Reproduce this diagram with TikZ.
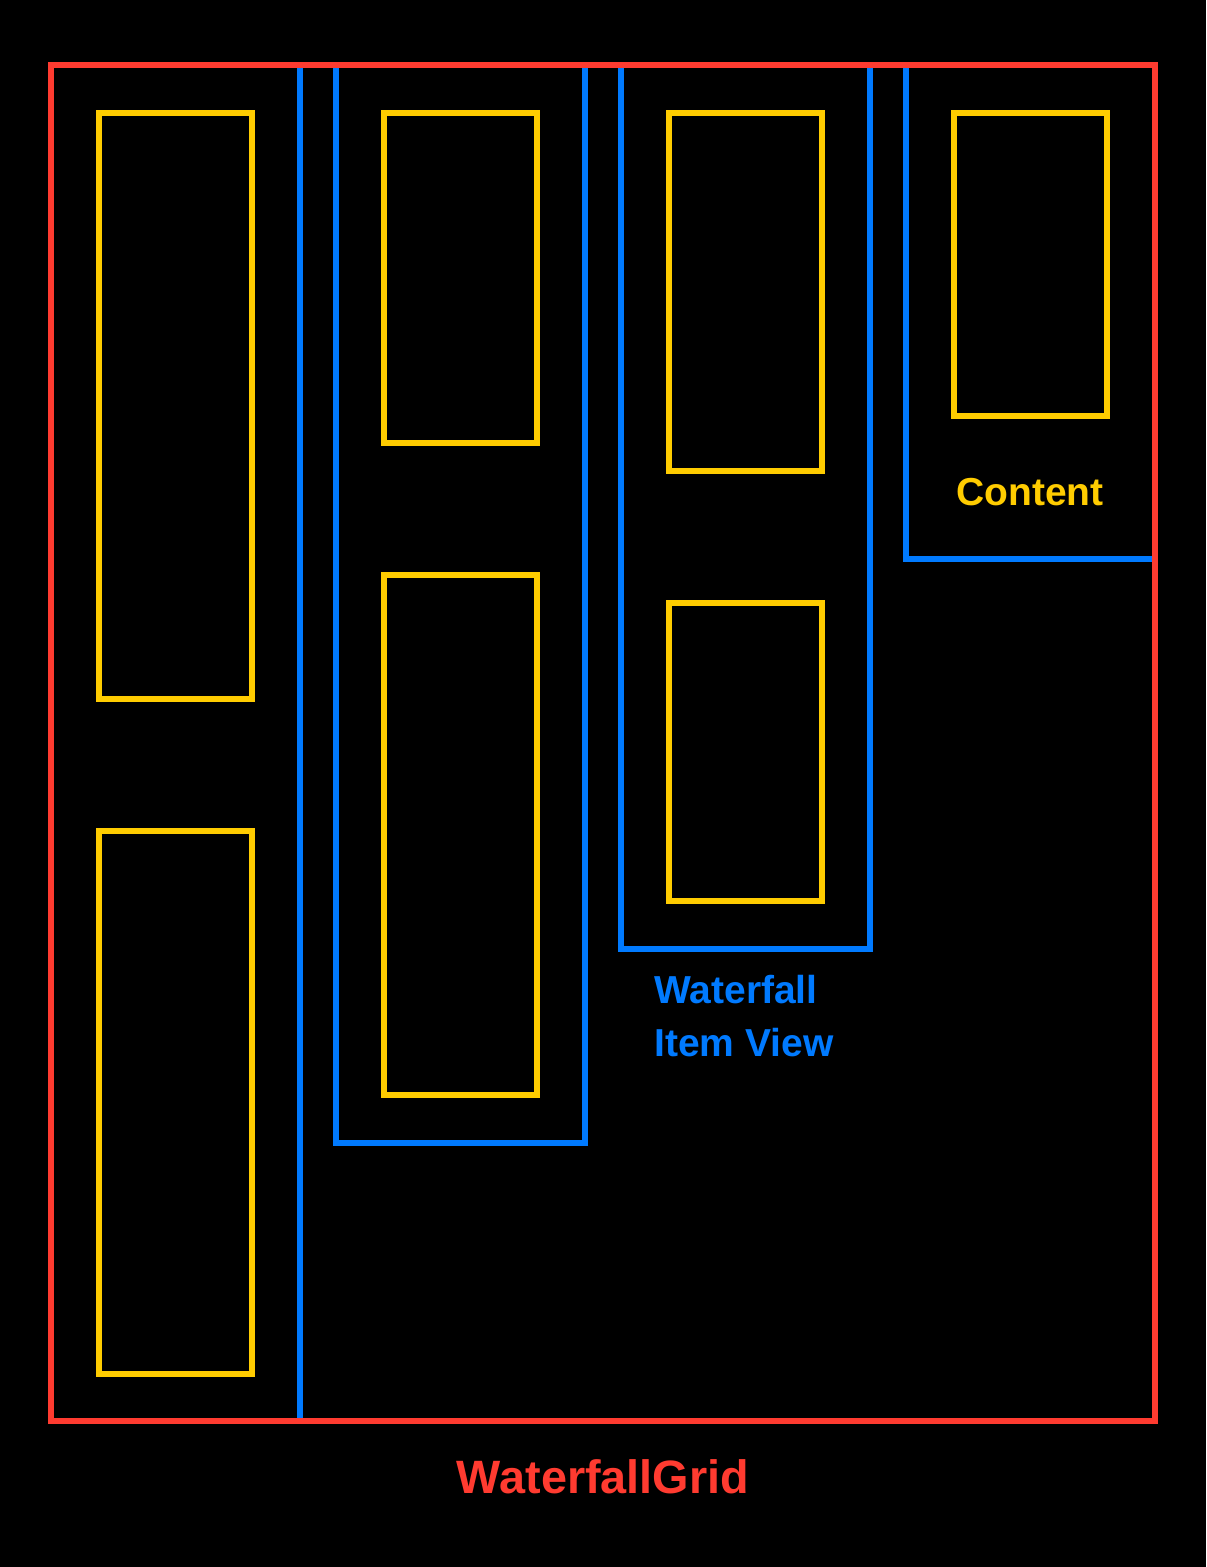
\documentclass[tikz,border=0pt]{standalone}
\usepackage{fontspec}
\setmainfont{Liberation Sans}
\definecolor{agred}{HTML}{FF3B30}
\definecolor{agblue}{HTML}{007AFF}
\definecolor{agyellow}{HTML}{FFCC00}
\tikzset{
  gridbox/.style={draw=agred, line width=3pt},
  itemline/.style={draw=agblue, line width=3pt},
  contentbox/.style={draw=agyellow, line width=3pt},
  lbl/.style={inner sep=0pt, font=\bfseries\fontsize{19.5}{23}\selectfont}
}
\begin{document}
\begin{tikzpicture}[x=0.5pt,y=-0.5pt]
\useasboundingbox (0,0) rectangle (1206,1567);
\fill[black] (0,0) rectangle (1206,1567);
% waterfall item views (blue)
\draw[itemline] (300,65) -- (300,1421);
\draw[itemline] (336,65) -- (336,1143) -- (585,1143) -- (585,65);
\draw[itemline] (621,65) -- (621,949) -- (870,949) -- (870,65);
\draw[itemline] (906,65) -- (906,559) -- (1155,559);
% grid (red)
\draw[gridbox] (51,65) rectangle (1155,1421);
% contents (yellow)
\draw[contentbox] (99,113) rectangle (252,699);
\draw[contentbox] (99,831) rectangle (252,1374);
\draw[contentbox] (384,113) rectangle (537,443);
\draw[contentbox] (384,575) rectangle (537,1095);
\draw[contentbox] (669,113) rectangle (822,471);
\draw[contentbox] (669,603) rectangle (822,901);
\draw[contentbox] (954,113) rectangle (1107,416);
% labels
\node[lbl, text=agyellow, anchor=base] (content) at (1030,505) {Content};
\node[lbl, text=agblue, anchor=base west] (item1) at (654,1003) {Waterfall};
\node[lbl, text=agblue, anchor=base west] (item2) at (654,1056) {Item View};
\node[lbl, text=agred, anchor=base, font=\bfseries\fontsize{23.4}{28}\selectfont] (grid) at (603,1493) {WaterfallGrid};
\end{tikzpicture}
\end{document}
